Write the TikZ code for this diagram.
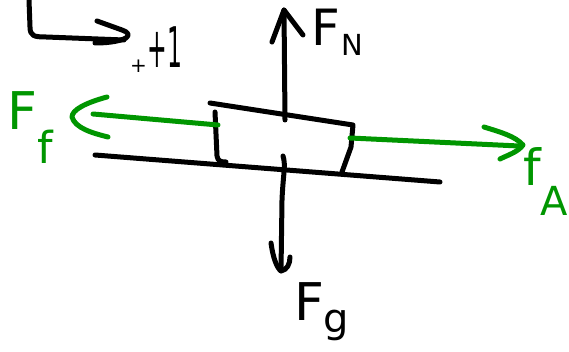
\documentclass[tikz,border=0pt]{standalone}
\usepackage{fontspec}
\setmainfont{DejaVu Sans}
\usepackage{graphicx}
\definecolor{fgreen}{RGB}{0,150,0}
\newcommand{\fs}[1]{\fontsize{#1pt}{#1pt}\selectfont}
\begin{document}
\begin{tikzpicture}[x=1pt,y=-1pt,
  ink/.style={line width=5pt,line cap=round,line join=round},
  lbl/.style={inner sep=0pt,outer sep=0pt,anchor=base west},
]
\useasboundingbox (0,0) rectangle (569,352);

% ---- positive direction marker (top left)
\coordinate (dirStart) at (29,0);
\coordinate (dirTip) at (129,35);
\coordinate (dirBarbA) at (97,21);
\coordinate (dirBarbB) at (95,43);
\draw[ink] (dirStart) -- (30,27) .. controls (30,36) and (34,37) .. (46,37) -- (124,40);
\draw[ink] (dirBarbA) -- (122,30) .. controls (128,32) and (130,35) .. (126,38) .. controls (118,42) and (105,43) .. (dirBarbB);
\node[lbl] (sign) at (130,73) {\fs{20}+\hspace{1pt}\raisebox{5pt}{\scalebox{0.42}[1]{\fs{56}+1}}};

% ---- ground line and block
\coordinate (gL) at (95,155);
\coordinate (gR) at (440,182);
\draw[ink] (gL) -- (gR);
\coordinate (bTL) at (210,103);
\coordinate (bTR) at (353,125);
\coordinate (bBR) at (342,172);
\draw[ink] (bTL) -- (bTR) -- (351,147) -- (bBR);
\draw[ink] (215,112) -- (217,156) .. controls (218,161) and (220,162) .. (226,162);

% ---- normal force (up)
\coordinate (upBase) at (285,120);
\coordinate (upTip) at (284,10);
\coordinate (upBarbL) at (272,42);
\coordinate (upBarbR) at (303,35);
\draw[ink] (upBase) -- (upTip);
\draw[ink] (upBarbL) -- (upTip) -- (upBarbR);
\node[lbl] (FN) at (311,46) {\fs{50}F\hspace{2pt}\raisebox{-10pt}{\fs{29}N}};

% ---- gravity (down)
\coordinate (dnBase) at (283,156);
\coordinate (dnTip) at (281,271);
\coordinate (dnBarbL) at (271,243);
\coordinate (dnBarbR) at (290,257);
\draw[ink] (dnBase) .. controls (286,165) and (283,175) .. (282,200) -- (dnTip);
\draw[ink] (dnBarbL) .. controls (273,258) and (277,268) .. (dnTip) .. controls (287,270) and (290,264) .. (dnBarbR);
\node[lbl] (Fg) at (294,320) {\fs{52}F\hspace{0pt}\raisebox{-12pt}{\fs{40}g}};

% ---- friction (left, green)
\coordinate (ffBase) at (218,125);
\coordinate (ffTip) at (72,117);
\coordinate (ffBarbA) at (107,97);
\coordinate (ffBarbB) at (108,137);
\draw[ink,fgreen] (ffBase) -- (93,114);
\draw[ink,fgreen] (ffBarbA) .. controls (85,103) and (72,110) .. (ffTip) .. controls (75,128) and (92,133) .. (ffBarbB);
\node[lbl,text=fgreen] (Ff) at (8,130) {\fs{52}F\hspace{0pt}\raisebox{-34pt}{\fs{44}f}};

% ---- applied force (right, green)
\coordinate (faBase) at (350,138);
\coordinate (faTip) at (523,145);
\coordinate (faBarbA) at (484,127);
\coordinate (faBarbB) at (500,159);
\draw[ink,fgreen] (faBase) -- (519,146);
\draw[ink,fgreen] (faBarbA) .. controls (500,132) and (515,136) .. (faTip) .. controls (518,152) and (508,155) .. (faBarbB);
\node[lbl,text=fgreen] (fA) at (523,186) {\fs{50}f\hspace{0pt}\raisebox{-30pt}{\fs{40}A}};
\end{tikzpicture}
\end{document}
